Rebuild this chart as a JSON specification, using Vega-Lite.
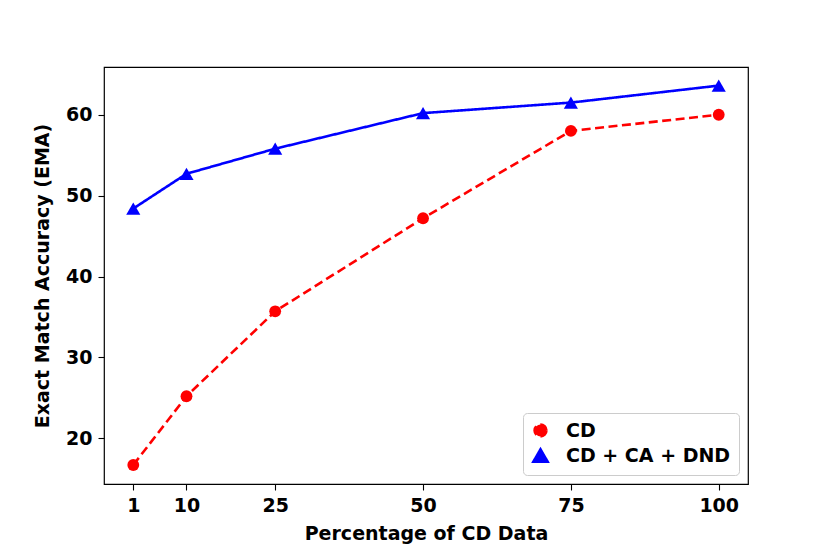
{
  "$schema": "https://vega.github.io/schema/vega-lite/v6.json",
  "width": 644,
  "height": 417,
  "autosize": {"type": "none"},
  "padding": {"left": 104, "top": 67, "right": 82, "bottom": 70},
  "background": "white",
  "config": {
    "font": "DejaVu Sans",
    "view": {"stroke": "black", "strokeWidth": 1.2},
    "axis": {
      "domain": false,
      "grid": false,
      "tickColor": "black",
      "tickSize": 6,
      "tickWidth": 1.1,
      "labelColor": "black",
      "labelFont": "DejaVu Sans",
      "labelFontWeight": "bold",
      "labelFontSize": 19,
      "labelPadding": 6,
      "titleColor": "black",
      "titleFont": "DejaVu Sans",
      "titleFontWeight": "bold",
      "titleFontSize": 19
    },
    "legend": {
      "labelFont": "DejaVu Sans",
      "labelFontSize": 19,
      "labelFontWeight": "bold",
      "labelColor": "black",
      "labelLimit": 400
    }
  },
  "data": {
    "values": [
      {"pct": 1, "ema": 16.7, "series": "CD"},
      {"pct": 10, "ema": 25.2, "series": "CD"},
      {"pct": 25, "ema": 35.7, "series": "CD"},
      {"pct": 50, "ema": 47.2, "series": "CD"},
      {"pct": 75, "ema": 58.0, "series": "CD"},
      {"pct": 100, "ema": 60.0, "series": "CD"},
      {"pct": 1, "ema": 48.4, "series": "CD + CA + DND"},
      {"pct": 10, "ema": 52.7, "series": "CD + CA + DND"},
      {"pct": 25, "ema": 55.8, "series": "CD + CA + DND"},
      {"pct": 50, "ema": 60.2, "series": "CD + CA + DND"},
      {"pct": 75, "ema": 61.5, "series": "CD + CA + DND"},
      {"pct": 100, "ema": 63.6, "series": "CD + CA + DND"}
    ]
  },
  "encoding": {
    "x": {
      "field": "pct",
      "type": "quantitative",
      "scale": {"domain": [-3.95, 104.95], "nice": false, "zero": false},
      "axis": {"values": [1, 10, 25, 50, 75, 100], "title": "Percentage of CD Data", "titlePadding": 9}
    },
    "y": {
      "field": "ema",
      "type": "quantitative",
      "scale": {"domain": [14.35, 65.9], "nice": false, "zero": false},
      "axis": {"values": [20, 30, 40, 50, 60], "title": "Exact Match Accuracy (EMA)", "titlePadding": 13}
    },
    "color": {
      "field": "series",
      "type": "nominal",
      "scale": {"domain": ["CD", "CD + CA + DND"], "range": ["#ff0000", "#0000ff"]},
      "legend": {
        "title": null,
        "orient": "bottom-right",
        "offset": 9,
        "padding": 8,
        "fillColor": "white",
        "strokeColor": "#cccccc",
        "cornerRadius": 4,
        "symbolStrokeWidth": 2.6,
        "labelOffset": 16
      }
    }
  },
  "layer": [
    {
      "mark": {"type": "line", "strokeWidth": 2.6},
      "encoding": {
        "strokeDash": {
          "field": "series",
          "type": "nominal",
          "scale": {"domain": ["CD", "CD + CA + DND"], "range": [[9, 4.5], [1, 0]]}
        }
      }
    },
    {
      "mark": {"type": "point", "filled": true, "opacity": 1},
      "encoding": {
        "shape": {
          "field": "series",
          "type": "nominal",
          "scale": {"domain": ["CD", "CD + CA + DND"], "range": ["circle", "triangle-up"]}
        },
        "size": {
          "field": "series",
          "type": "nominal",
          "scale": {"domain": ["CD", "CD + CA + DND"], "range": [140, 200]}
        }
      }
    }
  ]
}
